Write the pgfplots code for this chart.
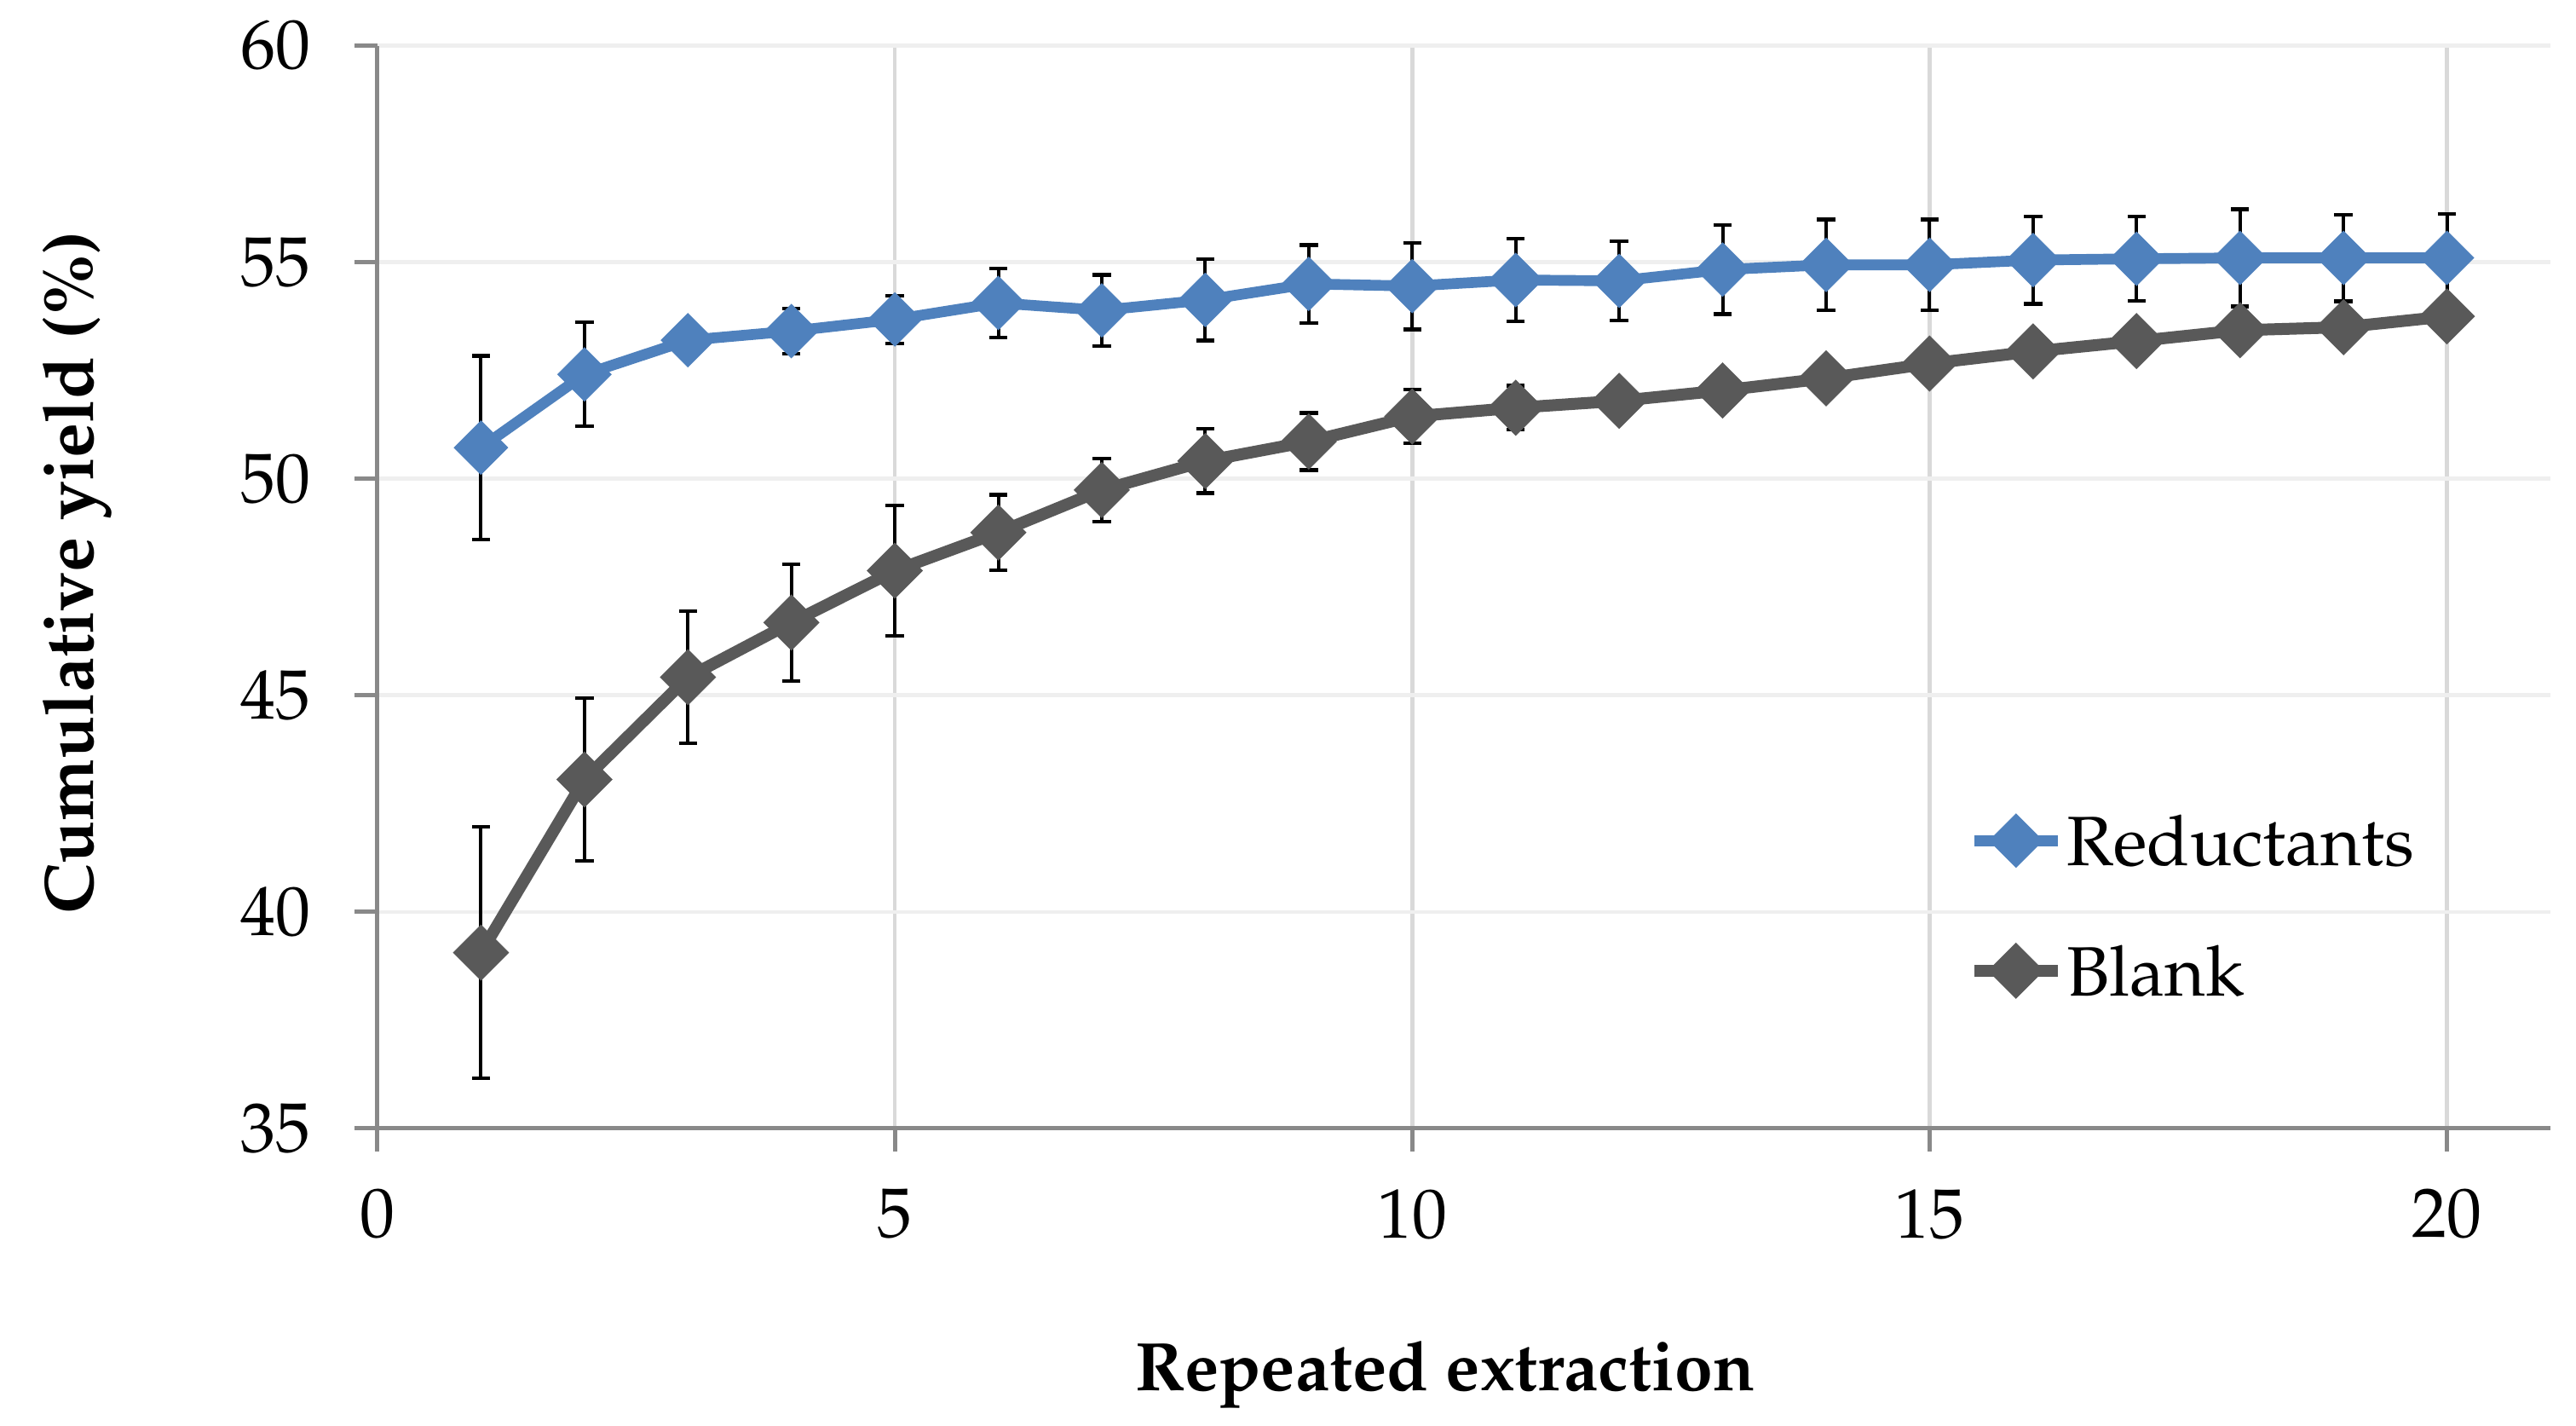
\documentclass[border=0pt]{standalone}
\usepackage[T1]{fontenc}
\usepackage{mathpazo}
\usepackage{pgfplots}
\usepackage{pgfplotstable}
\pgfplotsset{compat=1.18}
\definecolor{cblue}{HTML}{4F81BD}
\definecolor{cgray}{HTML}{595959}
\definecolor{axgray}{HTML}{898989}
\definecolor{vgrid}{HTML}{D9D9D9}
\definecolor{hgrid}{HTML}{EFEFEF}
\pgfplotstableread{
x y e
1 50.72 2.12
2 52.41 1.20
3 53.20 0.27
4 53.41 0.52
5 53.68 0.55
6 54.06 0.80
7 53.89 0.82
8 54.13 0.94
9 54.50 0.90
10 54.45 1.00
11 54.59 0.95
12 54.57 0.91
13 54.83 1.03
14 54.94 1.05
15 54.94 1.05
16 55.05 1.01
17 55.08 0.97
18 55.10 1.12
19 55.10 1.00
20 55.10 1.02
}\reductants
\pgfplotstableread{
x y e
1 39.06 2.90
2 43.06 1.88
3 45.42 1.52
4 46.68 1.35
5 47.88 1.50
6 48.76 0.87
7 49.74 0.73
8 50.41 0.74
9 50.86 0.66
10 51.44 0.62
11 51.64 0.51
12 51.80 0.38
13 52.04 0.29
14 52.32 0.15
15 52.66 0.10
16 52.94 0.28
17 53.18 0.12
18 53.43 0.20
19 53.50 0.12
20 53.75 0.33
}\blank
\begin{document}
\begin{tikzpicture}
\useasboundingbox (-66.45pt,-52.35pt) rectangle (387pt,198.6pt);
\begin{axis}[
  at={(0pt,0pt)}, anchor=south west,
  scale only axis, width=382.5pt, height=190.56pt,
  xmin=0, xmax=21, ymin=35, ymax=60,
  xtick={0,5,10,15,20}, ytick={35,40,45,50,55,60},
  axis x line*=bottom, axis y line*=left,
  axis line style={-, axgray, line width=0.75pt},
  tick align=outside, major tick length=4pt,
  tick style={axgray, line width=0.75pt},
  xmajorgrids, ymajorgrids,
  x grid style={vgrid, line width=0.7pt},
  y grid style={hgrid, line width=0.7pt},
  tick label style={font=\fontsize{12.3}{14}\selectfont},
  yticklabel style={inner sep=0pt, anchor=east, xshift=-7.5pt},
  xticklabel style={inner sep=0pt, anchor=north, yshift=-6.5pt},
  xlabel={\textbf{Repeated extraction}},
  ylabel={\textbf{Cumulative yield (\%)}},
  xlabel style={at={(axis description cs:0.4913,-0.2424)}, anchor=base, inner sep=0pt, font=\fontsize{12.08}{14}\selectfont},
  ylabel style={at={(axis description cs:-0.1545,0.5136)}, anchor=north, inner sep=0pt, font=\fontsize{12.3}{14}\selectfont},
  legend style={draw=none, fill=none, at={(axis description cs:0.7321,0.2058)}, anchor=west,
    inner sep=0pt, outer sep=0pt, row sep=14pt, column sep=0.6pt,
    nodes={inner sep=0pt, text depth=0pt},
    font=\fontsize{12.3}{14}\selectfont},
  legend cell align=left,
  legend image code/.code={\draw[#1, mark repeat=2, mark phase=2] plot coordinates {(0pt,0pt) (7.35pt,0pt) (14.7pt,0pt)};},
]
\addplot[cblue, line width=1.9pt, mark=square*, mark size=2.45pt,
  mark options={rotate=45, solid, fill=cblue, draw=none},
  error bars/.cd, y dir=both, y explicit,
  error bar style={black, line width=0.6pt},
  error mark options={black, rotate=90, line width=0.65pt, mark size=1.6pt}]
  table[x=x, y=y, y error=e] {\reductants};
\addlegendentry{Reductants}
\addplot[cgray, line width=2.1pt, mark=square*, mark size=2.45pt,
  mark options={rotate=45, solid, fill=cgray, draw=none},
  error bars/.cd, y dir=both, y explicit,
  error bar style={black, line width=0.6pt},
  error mark options={black, rotate=90, line width=0.65pt, mark size=1.6pt}]
  table[x=x, y=y, y error=e] {\blank};
\addlegendentry{Blank}
\end{axis}
\end{tikzpicture}
\end{document}
